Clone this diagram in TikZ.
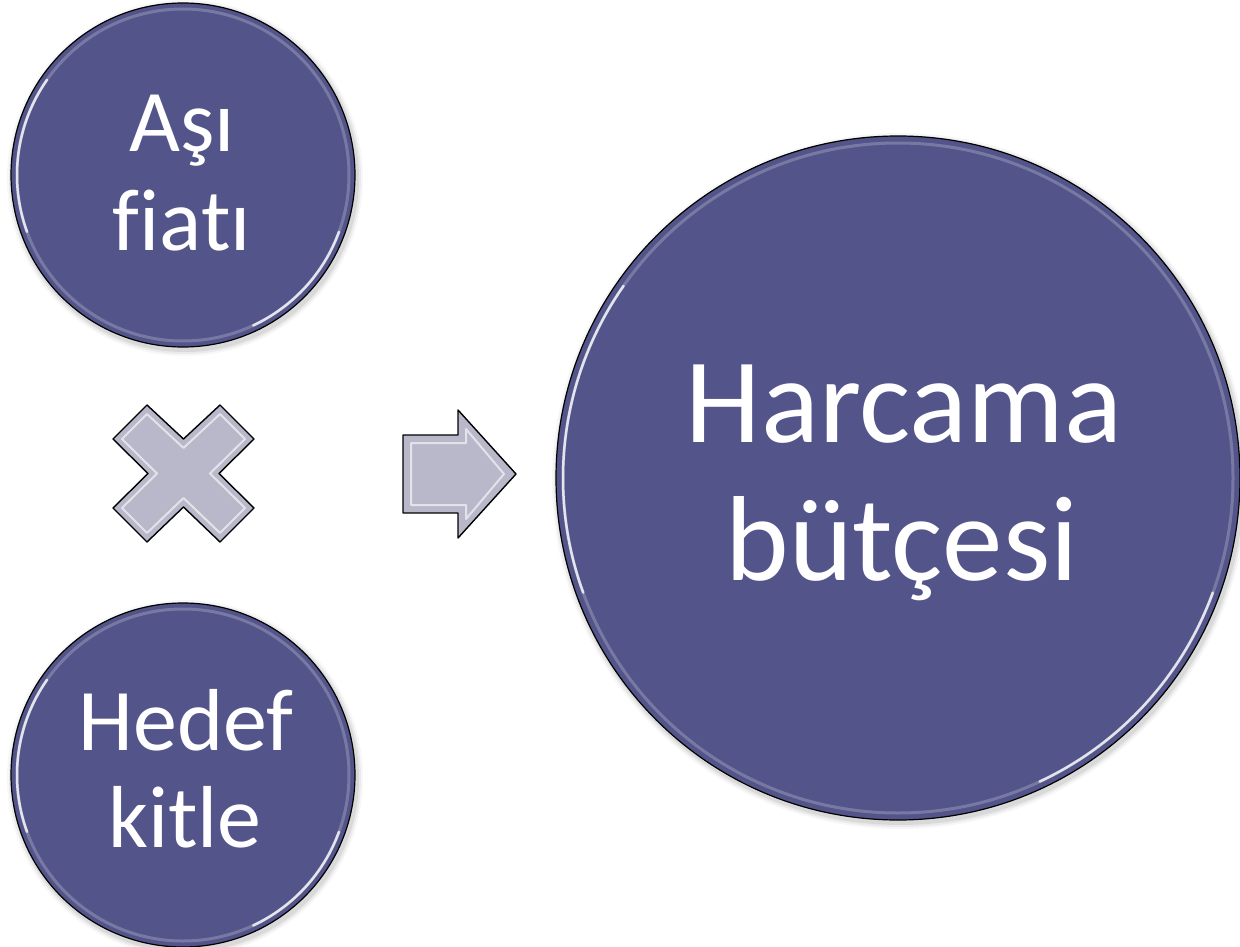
\documentclass[tikz,border=0pt]{standalone}
\usepackage{fontspec}
\setmainfont{Carlito}[Ligatures=NoCommon]
\usetikzlibrary{calc}
\definecolor{discfill}{RGB}{83,84,138}
\definecolor{symfill}{RGB}{184,184,202}
\begin{document}
\begin{tikzpicture}[x=1pt,y=-1pt,
  discnode/.style={circle, fill=discfill, draw=black, line width=1.2pt, inner sep=0pt, minimum size=#1},
  glow/.style={draw=white, opacity=0.22, line width=3pt},
  shine/.style={draw=white, opacity=0.8, line width=2.5pt, line cap=round},
  smalllbl/.style={text=white, anchor=base, inner sep=0pt, font=\fontsize{88}{97}\selectfont},
  biglbl/.style={text=white, anchor=base, inner sep=0pt, font=\fontsize{121}{138}\selectfont},
  symshape/.style={fill=symfill, draw=black, line width=1.4pt, line join=round},
  bevel/.style={draw=white, opacity=0.6, line width=2pt, line join=round}
]
\useasboundingbox (0,0) rectangle (1240,947);

% soft shadows
\foreach \r/\o in {178/0.03,176/0.05,174/0.07}{
  \fill[black,opacity=\o] (185,178) circle (\r);
  \fill[black,opacity=\o] (185,778) circle (\r);
}
\foreach \r/\o in {348/0.03,346/0.05,344/0.07}{
  \fill[black,opacity=\o] (900,481) circle (\r);
}

% discs
\node[discnode=344pt] (asi) at (183,175) {};
\node[discnode=344pt] (hedef) at (183,775) {};
\node[discnode=684pt] (harcama) at (898,478) {};

% glow rings
\draw[glow] (asi.center) circle (166);
\draw[glow] (hedef.center) circle (166);
\draw[glow] (harcama.center) circle (335);
\draw[shine] ($(asi.center)+(160:166)$) arc (160:215:166);
\draw[shine] ($(asi.center)+(20:166)$) arc (20:65:166);
\draw[shine] ($(hedef.center)+(160:166)$) arc (160:215:166);
\draw[shine] ($(hedef.center)+(20:166)$) arc (20:65:166);
\draw[shine] ($(harcama.center)+(160:335)$) arc (160:215:335);
\draw[shine] ($(harcama.center)+(20:335)$) arc (20:65:335);

% labels
\node[smalllbl] (asi1) at (182,152) {Aşı};
\node[smalllbl] (asi2) at (182,250) {fiatı};
\node[smalllbl] (hedef1) at (186,750) {Hedef};
\node[smalllbl] (hedef2) at (185,847) {kitle};
\node[biglbl] (harcama1) at (904,442) {Harcama};
\node[biglbl] (harcama2) at (902,580) {bütçesi};

% multiplication sign
\coordinate (times) at (183.5,473.5);
\draw[symshape] (183.5,439) -- (147,405) -- (113,439) -- (148,473.5) -- (113,508) -- (147,542)
  -- (183.5,507) -- (220,542) -- (254,508) -- (219,473.5) -- (254,439) -- (220,405) -- cycle;
\draw[bevel] (183.5,448) -- (147,414) -- (122,439) -- (157,473.5) -- (122,508) -- (147,533)
  -- (183.5,498) -- (220,533) -- (245,508) -- (210,473.5) -- (245,439) -- (220,414) -- cycle;

% arrow
\coordinate (arrowtip) at (516,474);
\draw[symshape] (403,435) -- (458,435) -- (458,410) -- (arrowtip) -- (458,538) -- (458,513) -- (403,513) -- cycle;
\draw[bevel] (411,443) -- (466,443) -- (466,429) -- (504,474) -- (466,519) -- (466,505) -- (411,505) -- cycle;
\end{tikzpicture}
\end{document}
